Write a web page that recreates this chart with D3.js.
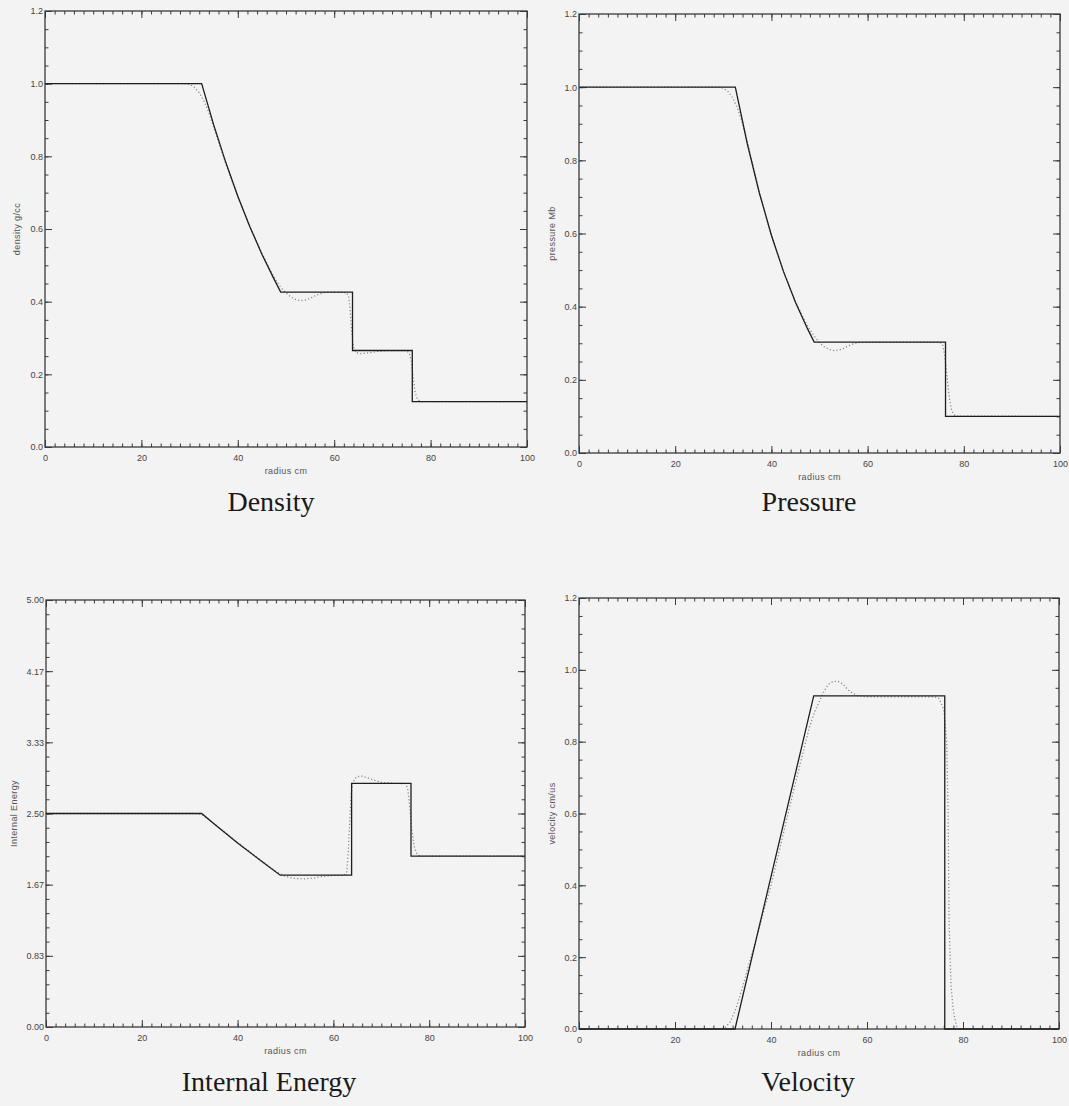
<!DOCTYPE html>
<html>
<head>
<meta charset="utf-8">
<script src="https://cdn.jsdelivr.net/npm/d3@7"></script>
<style>
  html, body { margin: 0; padding: 0; background: #f3f3f3; }
  svg { display: block; }
  .tick text { font-family: "Liberation Sans", Arial, sans-serif; font-size: 9px; fill: #444; }
  .axlabel { font-family: "Liberation Sans", Arial, sans-serif; font-size: 9px; fill: #555; letter-spacing: 0.4px; }
  .caption { font-family: "Liberation Serif", "Times New Roman", serif; font-size: 28px; fill: #1a1a1a; }
</style>
</head>
<body>
<svg id="chart" width="1069" height="1106"></svg>
<script>
// ---------------- DATA ----------------
const xTicks = [0, 20, 40, 60, 80, 100];
const yTicksUnit = [0, 0.2, 0.4, 0.6, 0.8, 1.0, 1.2];
const yTicksEnergy = [0, 0.8333, 1.6667, 2.5, 3.3333, 4.1667, 5.0];
const captions = ["Density", "Pressure", "Internal Energy", "Velocity"];
const yTitles = ["density g/cc", "pressure Mb", "Internal Energy", "velocity cm/us"];

// [radius, value] — solid (analytic) and dotted (simulation) curves
const densityExact = [[0,1],[32.5,1],[35,0.8865],[37.5,0.7835],[40,0.6904],[42.5,0.6064],[45,0.5306],[47.5,0.4627],[48.9,0.4263],[63.8,0.4263],[63.8,0.2656],[76.2,0.2656],[76.2,0.125],[100,0.125]];
const densitySim = [[0,1],[29,1],[30,0.998],[31,0.99],[32,0.975],[33,0.952],[34,0.92],[35,0.88],[37.5,0.78],[40,0.69],[42.5,0.607],[45,0.533],[47,0.48],[48,0.457],[49,0.438],[50,0.424],[51,0.413],[52,0.406],[53,0.403],[54,0.404],[55,0.409],[56,0.416],[57,0.421],[58,0.425],[60,0.426],[62.5,0.425],[63,0.415],[63.3,0.38],[63.6,0.32],[64,0.275],[64.5,0.26],[65.5,0.257],[67,0.259],[69,0.263],[71,0.265],[75,0.265],[75.6,0.258],[76,0.235],[76.4,0.19],[76.8,0.15],[77.3,0.13],[78,0.125],[100,0.125]];

const pressureExact = [[0,1],[32.5,1],[35,0.8447],[37.5,0.7107],[40,0.5953],[42.5,0.4964],[45,0.4118],[47.5,0.3399],[48.9,0.3031],[76.2,0.3031],[76.2,0.1],[100,0.1]];
const pressureSim = [[0,1],[29,1],[30,0.997],[31,0.988],[32,0.97],[33,0.94],[34,0.9],[35,0.85],[37.5,0.71],[40,0.595],[42.5,0.497],[45,0.414],[47,0.36],[48,0.337],[49,0.318],[50,0.302],[51,0.29],[52,0.283],[53,0.28],[54,0.281],[55,0.286],[56,0.293],[57,0.298],[58,0.302],[60,0.303],[75,0.303],[75.6,0.296],[76,0.27],[76.5,0.21],[77,0.15],[77.5,0.115],[78.2,0.101],[100,0.1]];

const energyExact = [[0,2.5],[32.5,2.5],[35,2.3824],[40,2.1556],[45,1.9402],[48.9,1.7776],[63.8,1.7776],[63.8,2.8535],[76.2,2.8535],[76.2,2.0],[100,2.0]];
const energySim = [[0,2.5],[31,2.5],[32.5,2.49],[35,2.385],[40,2.16],[45,1.945],[47,1.86],[48,1.82],[49,1.79],[50,1.765],[51,1.75],[52,1.74],[54,1.735],[56,1.745],[58,1.765],[60,1.775],[62.3,1.777],[62.8,1.82],[63.1,2.05],[63.4,2.4],[63.7,2.72],[64.1,2.87],[64.8,2.93],[65.8,2.94],[67,2.92],[68.5,2.89],[70,2.865],[72,2.855],[75,2.85],[75.5,2.8],[75.9,2.6],[76.3,2.35],[76.8,2.13],[77.3,2.04],[78,2.0],[100,2.0]];

const velocityExact = [[0,0],[32.5,0],[48.9,0.9275],[76.2,0.9275],[76.2,0],[100,0]];
const velocitySim = [[0,0],[29.5,0],[30.5,0.005],[31.5,0.02],[32.5,0.05],[33.5,0.09],[35,0.16],[40,0.40],[45,0.68],[48,0.84],[49,0.88],[50,0.91],[51,0.94],[52,0.96],[53,0.968],[54,0.968],[55,0.96],[56,0.945],[57,0.935],[58,0.928],[60,0.925],[74,0.925],[75,0.92],[76,0.89],[76.6,0.8],[76.9,0.6],[77.1,0.3],[77.5,0.12],[78,0.05],[78.6,0.01],[79,0],[100,0]];

// ---------------- LAYOUT ----------------
const panels = [
  { box: [45, 11, 527, 447], yMax: 1.2, yTicks: yTicksUnit, yMinorStep: 0.05, fmt: d3.format(".1f"),
    exact: densityExact, sim: densitySim, title: yTitles[0], titleX: 17, caption: captions[0], capX: 271, capY: 511 },
  { box: [579, 14, 1060, 453], yMax: 1.2, yTicks: yTicksUnit, yMinorStep: 0.05, fmt: d3.format(".1f"),
    exact: pressureExact, sim: pressureSim, title: yTitles[1], titleX: 552, caption: captions[1], capX: 809, capY: 511 },
  { box: [46, 600, 525, 1027], yMax: 5, yTicks: yTicksEnergy, yMinorStep: 5/30, fmt: d3.format(".2f"),
    exact: energyExact, sim: energySim, title: yTitles[2], titleX: 14, caption: captions[2], capX: 269, capY: 1091 },
  { box: [579, 598, 1059, 1029], yMax: 1.2, yTicks: yTicksUnit, yMinorStep: 0.05, fmt: d3.format(".1f"),
    exact: velocityExact, sim: velocitySim, title: yTitles[3], titleX: 552, caption: captions[3], capX: 808, capY: 1091 }
];

const svg = d3.select("#chart");
svg.append("rect").attr("width", 1069).attr("height", 1106).attr("fill", "#f3f3f3");

const AX = "#3a3a3a";
const MAJ = 7, MIN = 3.5;

panels.forEach(p => {
  const [l, t, r, b] = p.box;
  const x = d3.scaleLinear().domain([0, 100]).range([l, r]);
  const y = d3.scaleLinear().domain([0, p.yMax]).range([b, t]);
  const g = svg.append("g");

  const xMinor = d3.range(0, 100.001, 2);
  const yMinor = d3.range(0, p.yMax + 1e-6, p.yMinorStep);

  const style = sel => {
    sel.select(".domain").remove();
    sel.selectAll(".tick line").attr("stroke", AX).attr("stroke-width", 1);
  };

  // bottom
  g.append("g").attr("transform", `translate(0,${b})`)
    .call(d3.axisBottom(x).tickValues(xMinor).tickSize(-MIN).tickSizeOuter(0).tickFormat("")).call(style);
  g.append("g").attr("transform", `translate(0,${b})`)
    .call(d3.axisBottom(x).tickValues(xTicks).tickSize(-MAJ).tickSizeOuter(0).tickPadding(8).tickFormat(d3.format("d"))).call(style);
  // top
  g.append("g").attr("transform", `translate(0,${t})`)
    .call(d3.axisTop(x).tickValues(xMinor).tickSize(-MIN).tickSizeOuter(0).tickFormat("")).call(style);
  g.append("g").attr("transform", `translate(0,${t})`)
    .call(d3.axisTop(x).tickValues(xTicks).tickSize(-MAJ).tickSizeOuter(0).tickFormat("")).call(style);
  // left
  g.append("g").attr("transform", `translate(${l},0)`)
    .call(d3.axisLeft(y).tickValues(yMinor).tickSize(-MIN).tickSizeOuter(0).tickFormat("")).call(style);
  g.append("g").attr("transform", `translate(${l},0)`)
    .call(d3.axisLeft(y).tickValues(p.yTicks).tickSize(-MAJ).tickSizeOuter(0).tickPadding(2).tickFormat(p.fmt)).call(style);
  // right
  g.append("g").attr("transform", `translate(${r},0)`)
    .call(d3.axisRight(y).tickValues(yMinor).tickSize(-MIN).tickSizeOuter(0).tickFormat("")).call(style);
  g.append("g").attr("transform", `translate(${r},0)`)
    .call(d3.axisRight(y).tickValues(p.yTicks).tickSize(-MAJ).tickSizeOuter(0).tickFormat("")).call(style);

  // frame
  g.append("rect").attr("x", l).attr("y", t).attr("width", r - l).attr("height", b - t)
    .attr("fill", "none").attr("stroke", AX).attr("stroke-width", 1.3);

  const line = d3.line().x(d => x(d[0])).y(d => y(d[1]));

  g.append("path").datum(p.sim).attr("d", line)
    .attr("fill", "none").attr("stroke", "#8a8a8a").attr("stroke-width", 1.3)
    .attr("stroke-dasharray", "1.2,2.2");
  g.append("path").datum(p.exact).attr("d", line)
    .attr("fill", "none").attr("stroke", "#1e1e1e").attr("stroke-width", 1.3);

  // axis titles
  g.append("text").attr("class", "axlabel")
    .attr("x", (l + r) / 2).attr("y", b + 27).attr("text-anchor", "middle").text("radius cm");
  g.append("text").attr("class", "axlabel")
    .attr("transform", `translate(${p.titleX},${(t + b) / 2}) rotate(-90)`)
    .attr("text-anchor", "middle").attr("dy", "0.35em").text(p.title);

  // caption
  svg.append("text").attr("class", "caption")
    .attr("x", p.capX).attr("y", p.capY).attr("text-anchor", "middle").text(p.caption);
});
</script>
</body>
</html>
